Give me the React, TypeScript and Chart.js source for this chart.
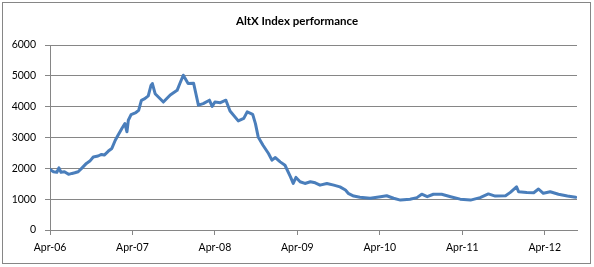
import React, { useEffect, useRef } from "react";
import { Chart, registerables } from "chart.js";

Chart.register(...registerables);

const TITLE = "AltX Index performance";

// months elapsed since Apr-06
const months = [
  0.0, 0.5, 1.0, 1.3, 1.6, 2.1, 2.7, 3.2, 3.6, 4.1, 4.6, 5.3, 5.8, 6.3, 7.0, 7.5, 7.9, 8.5,
  9.0, 9.5, 9.9, 10.5, 10.9, 11.2, 11.4, 11.8, 12.5, 12.9, 13.3, 13.8, 14.3, 14.7, 14.9,
  15.3, 16.5, 17.5, 18.5, 18.9, 19.4, 20.1, 20.9, 21.6, 22.3, 23.2, 23.6, 24.0, 24.8, 25.6,
  26.2, 27.4, 28.2, 28.7, 29.5, 29.9, 30.3, 31.0, 31.8, 32.3, 32.8,
  33.5, 34.2, 35.0, 35.4, 35.8, 36.4, 37.1, 37.9, 38.6, 39.3, 40.3, 41.3, 42.2, 43.0, 43.4,
  44.2, 45.1, 46.6, 48.1, 49.0, 50.0, 51.0, 52.4, 53.4, 54.1, 54.9,
  55.8, 57.0, 58.3, 59.7, 61.2, 62.6, 63.8, 64.8, 66.3, 67.0, 67.9, 68.2, 69.4, 70.4, 71.1,
  71.8, 72.8, 74.0, 75.3, 76.5,
];

const indexValues = [
  1965, 1890, 1870, 2015, 1870, 1890, 1805, 1835, 1855, 1890, 2000, 2160, 2235, 2370, 2400, 2450, 2430, 2560,
  2645, 2910, 3075, 3310, 3450, 3185, 3560, 3745, 3810, 3880, 4205, 4260, 4350, 4690, 4750,
  4420, 4150, 4380, 4530, 4750, 5020, 4750, 4760, 4050, 4100, 4210, 4010, 4150, 4130, 4210,
  3860, 3540, 3620, 3830, 3750, 3450, 3020, 2750, 2480, 2265, 2350,
  2210, 2100, 1725, 1510, 1705, 1565, 1510, 1565, 1530, 1455, 1510, 1455, 1400, 1295, 1190,
  1100, 1060, 1030, 1080, 1110, 1030, 970, 1000, 1050, 1160, 1080,
  1160, 1160, 1080, 1000, 970, 1050, 1170, 1100, 1110, 1220, 1400, 1240, 1220, 1210, 1330,
  1190, 1240, 1160, 1100, 1060,
];

const xTickMonths = [0, 12, 24, 36, 48, 60, 72];
const xTickLabels = ["Apr-06", "Apr-07", "Apr-08", "Apr-09", "Apr-10", "Apr-11", "Apr-12"];
const X_MAX = 76.7;

const FONT = "Lato, 'Open Sans', sans-serif";
const GRID = "#868686";

export default function App() {
  const ref = useRef<HTMLCanvasElement | null>(null);

  useEffect(() => {
    if (!ref.current) return;
    const titlePlugin = {
      id: "manualTitle",
      afterDraw(chart: any) {
        const ctx = chart.ctx;
        ctx.save();
        ctx.font = `bold 11.5px ${FONT}`;
        ctx.fillStyle = "#000";
        ctx.textAlign = "center";
        ctx.textBaseline = "middle";
        ctx.fillText(TITLE, 297, 21.5);
        ctx.restore();
      },
    };
    const chart = new Chart(ref.current, {
      type: "line",
      data: {
        datasets: [
          {
            data: months.map((m, i) => ({ x: m, y: indexValues[i] })),
            borderColor: "#4A7EBB",
            borderWidth: 3,
            borderJoinStyle: "round",
            borderCapStyle: "round",
            pointRadius: 0,
            tension: 0,
            fill: false,
          },
        ],
      },
      options: {
        animation: false,
        responsive: false,
        devicePixelRatio: 1,
        layout: { padding: { left: 0, right: 17, top: 45, bottom: 0 } },
        plugins: {
          legend: { display: false },
          title: { display: false },
          tooltip: { enabled: false },
        },
        scales: {
          x: {
            type: "linear",
            min: 0,
            max: X_MAX,
            afterBuildTicks: (s: any) => {
              s.ticks = xTickMonths.map((v) => ({ value: v }));
            },
            afterFit: (s: any) => {
              s.height = 37;
            },
            ticks: {
              autoSkip: false,
              maxRotation: 0,
              padding: 6,
              color: "#000",
              font: { family: FONT, size: 10.5 },
              callback: (v: any) => {
                const i = xTickMonths.indexOf(Number(v));
                return i >= 0 ? xTickLabels[i] : "";
              },
            },
            grid: {
              drawOnChartArea: false,
              drawTicks: true,
              tickLength: 5,
              color: GRID,
            },
            border: { display: true, color: GRID },
          },
          y: {
            min: 0,
            max: 6000,
            afterFit: (s: any) => {
              s.width = 50;
            },
            ticks: {
              stepSize: 1000,
              padding: 9,
              color: "#000",
              font: { family: FONT, size: 10.5 },
              callback: (v: any) => String(v),
            },
            grid: { color: GRID, tickLength: 5 },
            border: { display: true, color: GRID },
          },
        },
      },
      plugins: [titlePlugin],
    });
    return () => chart.destroy();
  }, []);

  return (
    <div style={{ position: "fixed", left: 0, top: 0, width: 594, height: 267, background: "#fff" }}>
      <div
        style={{
          position: "absolute",
          left: 2,
          top: 2,
          width: 589,
          height: 262,
          border: `1px solid ${GRID}`,
          boxSizing: "border-box",
        }}
      />
      <canvas ref={ref} width={594} height={267} style={{ position: "absolute", left: 0, top: 0 }} />
    </div>
  );
}
